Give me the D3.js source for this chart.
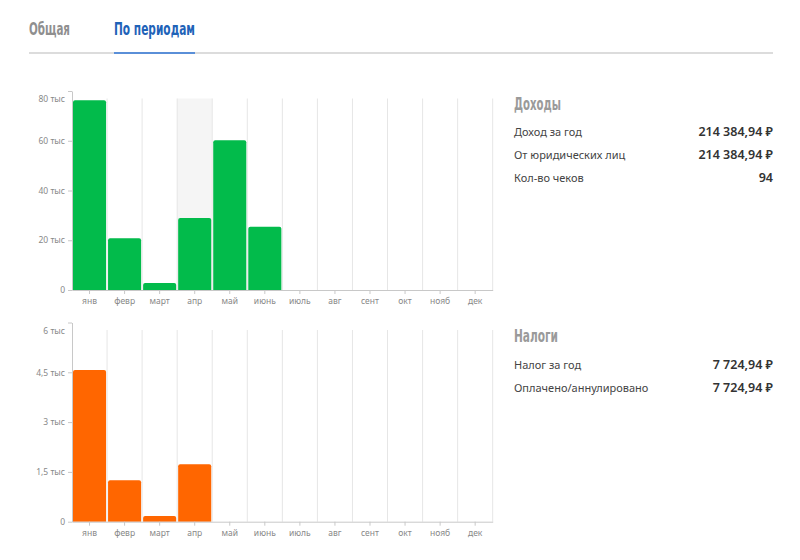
<!DOCTYPE html>
<html><head><meta charset="utf-8">
<script src="https://cdn.jsdelivr.net/npm/d3@7"></script>
<style>
body{margin:0;background:#fff;}
svg{display:block;}
</style></head>
<body><svg id="c" width="800" height="560"></svg>
<script>
const months = ["янв","февр","март","апр","май","июнь","июль","авг","сент","окт","нояб","дек"];
const incomeK = [76.3, 20.8, 2.8, 28.9, 60.2, 25.4, 0, 0, 0, 0, 0, 0];
const taxes = [4570, 1250, 170, 1730, 0, 0, 0, 0, 0, 0, 0, 0];
const incomeTicks = [0, 20, 40, 60, 80];
const incomeTickLabels = ["0", "20 тыс", "40 тыс", "60 тыс", "80 тыс"];
const taxTicks = [0, 1500, 3000, 4500, 6000];
const taxTickLabels = ["0", "1,5 тыс", "3 тыс", "4,5 тыс", "6 тыс"];
const tabs = ["Общая", "По периодам"];
const incomeRows = [["Доход за год","214 384,94 ₽"],["От юридических лиц","214 384,94 ₽"],["Кол-во чеков","94"]];
const taxRows = [["Налог за год","7 724,94 ₽"],["Оплачено/аннулировано","7 724,94 ₽"]];

const svg = d3.select("#c");
const narrow = "'Liberation Sans Narrow','DejaVu Sans Condensed','Roboto',sans-serif";
const body = "'Noto Sans','Open Sans',sans-serif";

function condensed(xp, yp, txt, len, fill, size){
  return svg.append("text").attr("x",xp).attr("y",yp).text(txt)
    .attr("font-family",narrow).attr("font-weight","bold").attr("font-size",size)
    .attr("fill",fill).attr("textLength",len).attr("lengthAdjust","spacingAndGlyphs");
}

// tabs
svg.append("line").attr("x1",29).attr("x2",773).attr("y1",53).attr("y2",53).attr("stroke","#d0d0d0").attr("stroke-width",1.5);
svg.append("line").attr("x1",114).attr("x2",195).attr("y1",53).attr("y2",53).attr("stroke","#5a8fd8").attr("stroke-width",2);
condensed(29, 35, tabs[0], 41, "#8f8f8f", 17.5);
condensed(114, 35, tabs[1], 81, "#1f63b8", 17.5);

const x = d3.scaleBand().domain(months).range([72, 492.7]).padding(0);

function chart(vals, yDom, base, top, ticks, labels, color, highlight){
  const y = d3.scaleLinear().domain(yDom).range([base, top]);
  const g = svg.append("g");
  const gridTop = top + 7.5;
  if (highlight) {
    g.append("rect").attr("x", x(highlight)).attr("y", gridTop).attr("width", x.bandwidth()).attr("height", base-gridTop).attr("fill","#f5f5f5");
  }
  const bounds = months.slice(1).map(m => x(m)).concat([x.range()[1]]);
  g.selectAll(".grid").data(bounds).join("line")
    .attr("x1", d=>d).attr("x2", d=>d).attr("y1", gridTop).attr("y2", base)
    .attr("stroke","#e6e6e6").attr("stroke-width",1);
  g.selectAll(".bar").data(vals.map((v,i)=>({m:months[i],v}))).join("path")
    .attr("fill", color)
    .attr("d", d => {
      if (d.v <= 0) return "";
      const x0 = x(d.m)+1, w = x.bandwidth()-2, y0 = y(d.v), h = base - y0, r = Math.min(2, h);
      return `M${x0},${base}V${y0+r}Q${x0},${y0} ${x0+r},${y0}H${x0+w-r}Q${x0+w},${y0} ${x0+w},${y0+r}V${base}Z`;
    });
  const xa = g.append("g").attr("transform",`translate(0,${base})`)
    .call(d3.axisBottom(x).tickSize(4).tickSizeOuter(0).tickPadding(4));
  xa.select(".domain").attr("stroke","#c8c8c8");
  xa.selectAll(".tick line").attr("stroke","#c8c8c8");
  xa.selectAll("text").attr("font-family",body).attr("font-size",8.5).attr("fill","#888");
  const ya = g.append("g").attr("transform",`translate(72,0)`)
    .call(d3.axisLeft(y).tickValues(ticks).tickFormat((d,i)=>labels[i]).tickSize(4).tickSizeOuter(0).tickPadding(3));
  ya.select(".domain").attr("stroke","#c8c8c8");
  ya.selectAll(".tick line").attr("stroke","#c8c8c8");
  ya.selectAll("text").attr("font-family",body).attr("font-size",8.5).attr("fill","#888");
  ya.selectAll(".tick").filter(d => d === ticks[ticks.length-1]).select("text").attr("dy","1.25em");
}

chart(incomeK, [0,80], 290, 91, incomeTicks, incomeTickLabels, "#02bb4b", "апр");
chart(taxes, [0,6000], 521.7, 322.5, taxTicks, taxTickLabels, "#ff6600", null);

function panel(title, len, rows, ty, rowY, step){
  condensed(514, ty, title, len, "#9a9a9a", 17.5);
  rows.forEach((r,i)=>{
    svg.append("text").attr("x",514).attr("y",rowY+i*step).text(r[0]).attr("font-family",body).attr("font-size",11).attr("fill","#444");
    svg.append("text").attr("x",773).attr("y",rowY+i*step).attr("text-anchor","end").text(r[1]).attr("font-family",body).attr("font-size",12.5).attr("font-weight",600).attr("fill","#333");
  });
}
panel("Доходы", 47, incomeRows, 110, 136, 23.2);
panel("Налоги", 44, taxRows, 342, 369, 22.5);
</script></body></html>
